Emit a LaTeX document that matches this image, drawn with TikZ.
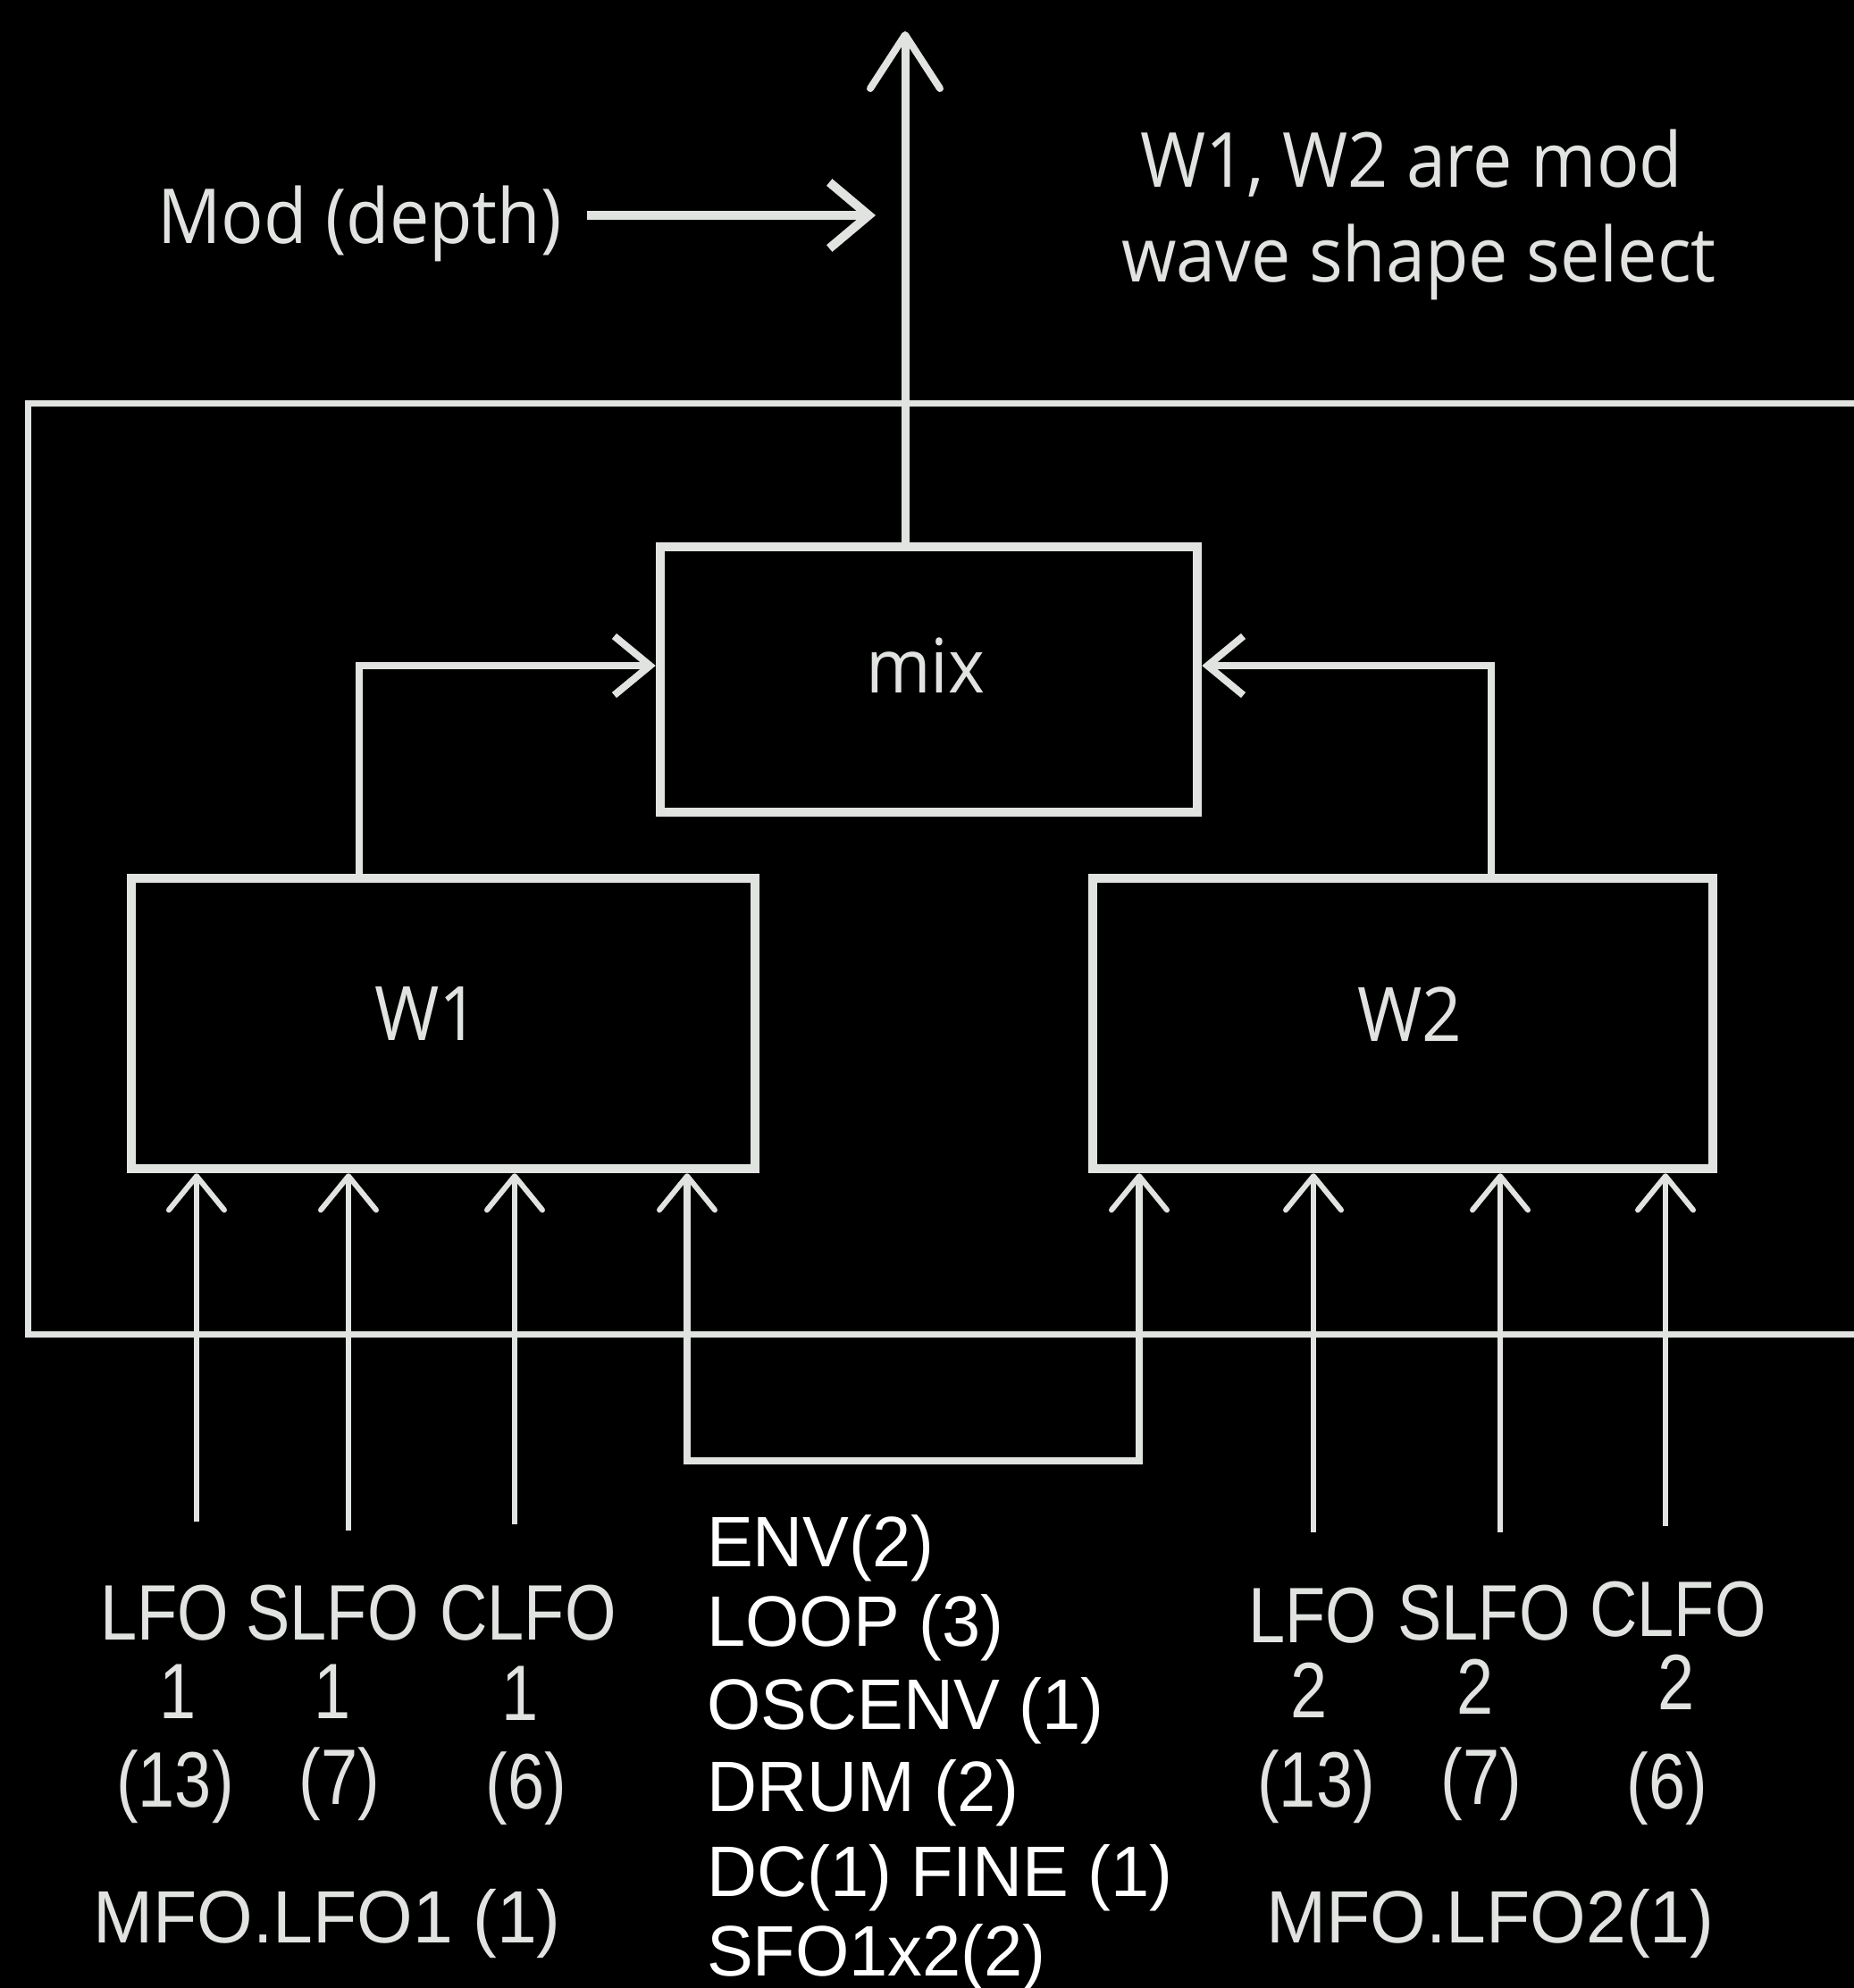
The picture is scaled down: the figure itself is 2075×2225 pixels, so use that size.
\documentclass[tikz,border=0pt]{standalone}
\usepackage{fontspec}
\setmainfont{Open Sans}
\newfontfamily\topfont[FakeStretch=0.93]{Open Sans}
\newfontfamily\labfont[FakeStretch=0.84]{Liberation Sans}
\newfontfamily\listfont[FakeStretch=0.97]{Liberation Sans}
\usetikzlibrary{arrows.meta}
\definecolor{ink}{HTML}{E0E3E0}
\begin{document}
\begin{tikzpicture}[x=1pt,y=-1pt,
  wire/.style={draw=ink,line width=6pt},
  conn/.style={draw=ink,line width=8.5pt},
  frameline/.style={draw=ink,line width=7pt},
  box/.style={draw=ink,line width=10.5pt,inner sep=0pt,rectangle},
  arr/.style={wire,-{Straight Barb[length=38pt,width=62pt,line width=6pt,round]}},
  carr/.style={conn,-{Straight Barb[length=40pt,width=66pt,line width=8pt]}},
  darr/.style={conn,{Straight Barb[length=38pt,width=62pt,line width=6pt,round]}-{Straight Barb[length=38pt,width=62pt,line width=6pt,round]}},
  toparr/.style={draw=ink,line width=9pt,-{Straight Barb[length=60pt,width=78pt,line width=8pt,round]}},
  modarr/.style={draw=ink,line width=10pt,-{Straight Barb[length=44pt,width=74pt,line width=10pt]}},
  toptxt/.style={text=ink,font=\topfont\fontsize{85}{100}\selectfont,inner sep=0pt,anchor=base},
  boxtxt/.style={text=ink,font=\topfont\fontsize{84}{100}\selectfont,inner sep=0pt},
  lab/.style={text=ink,font=\labfont\fontsize{88}{100}\selectfont,inner sep=0pt,anchor=base},
  mfo/.style={text=ink,font=\listfont\fontsize{83}{100}\selectfont,inner sep=0pt,anchor=base},
  lst/.style={text=white,font=\listfont\fontsize{80}{100}\selectfont,inner sep=0pt,anchor=base west}]
\fill[black] (0,0) rectangle (2075,2225);
\useasboundingbox (0,0) rectangle (2075,2225);

% outer frame (open on the right)
\coordinate (fTR) at (2075,451);
\coordinate (fTL) at (31,451);
\coordinate (fBL) at (31,1493);
\coordinate (fBR) at (2075,1493);
\draw[frameline] (fTR) -- (fTL) -- (fBL) -- (fBR);

% boxes
\node[box,minimum width=601pt,minimum height=297pt] (mix) at (1039.5,760.5) {};
\node[box,minimum width=698pt,minimum height=325pt] (W1) at (496,1145.5) {};
\node[box,minimum width=694pt,minimum height=325pt] (W2) at (1570,1145.5) {};
\node[boxtxt] (mixt) at (1036,745) {mix};
\node[boxtxt] (W1t) at (478,1135) {W1};
\node[boxtxt] (W2t) at (1578,1135) {W2};

% output arrow
\coordinate (outtop) at (1013,35);
\draw[toparr] (outtop |- mix.north) -- (outtop);

% Mod (depth)
\node[toptxt,anchor=base east] (mod) at (629,272) {Mod (depth)};
\coordinate (modend) at (980,241);
\draw[modarr] (mod.east |- modend) ++(28,0) -- (modend);

% note
\node[toptxt] (note1) at (1580,209) {W1, W2 are mod};
\node[toptxt] (note2) at (1588,315) {wave shape select};

% W1/W2 to mix
\coordinate (w1up) at (402,745);
\coordinate (w2up) at (1669,745);
\draw[carr] (w1up |- W1.north) -- (w1up) -- (mix.west |- w1up);
\draw[carr] (w2up |- W2.north) -- (w2up) -- (mix.east |- w2up);

% inputs to W1
\coordinate (a1) at (220,1703);
\coordinate (a2) at (390,1713);
\coordinate (a3) at (576,1706);
\draw[arr] (a1) -- (a1 |- W1.south);
\draw[arr] (a2) -- (a2 |- W1.south);
\draw[arr] (a3) -- (a3 |- W1.south);
% inputs to W2
\coordinate (b2) at (1470,1715);
\coordinate (b3) at (1679,1715);
\coordinate (b4) at (1864,1708);
\draw[arr] (b2) -- (b2 |- W2.south);
\draw[arr] (b3) -- (b3 |- W2.south);
\draw[arr] (b4) -- (b4 |- W2.south);
% shared loop
\coordinate (u1) at (769,1635);
\coordinate (u2) at (1275,1635);
\draw[darr] (u1 |- W1.south) -- (u1) -- (u2) -- (u2 |- W2.south);

% left labels
\node[lab] (l1a) at (184,1835) {LFO};
\node[lab] (l2a) at (372,1835) {SLFO};
\node[lab] (l3a) at (591,1835) {CLFO};
\node[lab] (l1b) at (199,1923) {1};
\node[lab] (l2b) at (372,1923) {1};
\node[lab] (l3b) at (582,1925) {1};
\node[lab] (l1c) at (196,2022) {(13)};
\node[lab] (l2c) at (380,2019) {(7)};
\node[lab] (l3c) at (589,2024) {(6)};
\node[mfo] (m1) at (366,2174) {MFO.LFO1 (1)};

% right labels
\node[lab] (r1a) at (1469,1838) {LFO};
\node[lab] (r2a) at (1661,1835) {SLFO};
\node[lab] (r3a) at (1878,1831) {CLFO};
\node[lab] (r1b) at (1465,1922) {2};
\node[lab] (r2b) at (1651,1918) {2};
\node[lab] (r3b) at (1876,1913) {2};
\node[lab] (r1c) at (1473,2022) {(13)};
\node[lab] (r2c) at (1658,2019) {(7)};
\node[lab] (r3c) at (1866,2024) {(6)};
\node[mfo] (m2) at (1668,2174) {MFO.LFO2(1)};

% centre list
\node[lst] (c1) at (791,1753) {ENV(2)};
\node[lst] (c2) at (791,1842) {LOOP (3)};
\node[lst] (c3) at (791,1935) {OSCENV (1)};
\node[lst] (c4) at (791,2027) {DRUM (2)};
\node[lst] (c5) at (791,2122) {DC(1) FINE (1)};
\node[lst] (c6) at (791,2211) {SFO1x2(2)};
\end{tikzpicture}
\end{document}
